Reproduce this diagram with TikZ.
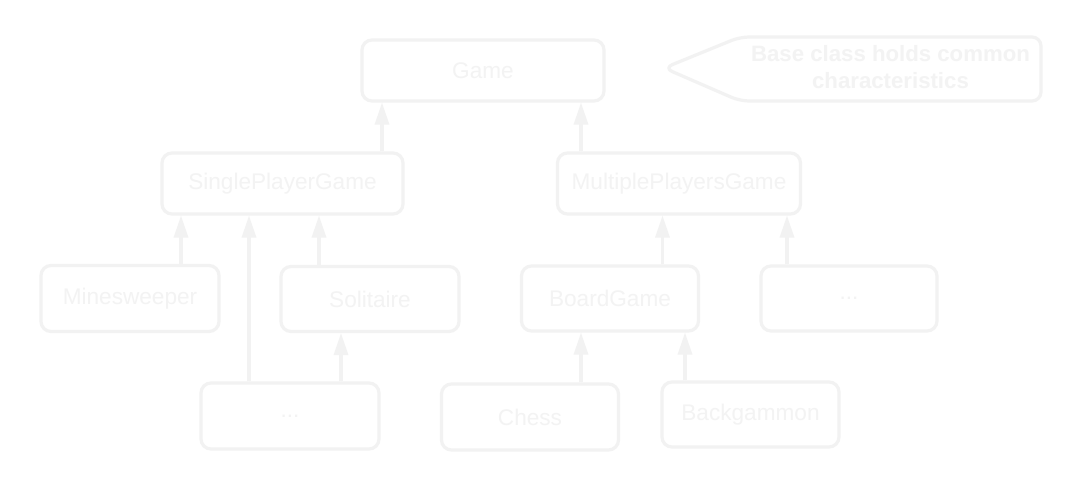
\documentclass[tikz,border=0pt]{standalone}
\usepackage{fontspec}
\setmainfont{Liberation Sans}
\usetikzlibrary{arrows.meta}
\definecolor{pale}{HTML}{F2F2F2}
\definecolor{paletext}{HTML}{F3F3F3}
\tikzset{
  cls/.style={draw=pale, line width=3.2pt, rounded corners=10pt, inner sep=0pt,
    text=paletext, font=\fontsize{22.6}{26}\selectfont},
  inh/.style={draw=pale, line width=3.2pt, -{Triangle[length=22pt,width=14pt]}, fill=pale},
  notebox/.style={draw=pale, line width=3.2pt, rounded corners=9pt, line join=round},
  notetext/.style={text=paletext, font=\fontsize{22.2}{26.5}\selectfont\bfseries, align=center, inner sep=0pt}
}
\begin{document}
\begin{tikzpicture}[x=1pt,y=-1pt]
\useasboundingbox[fill=white] (0,0) rectangle (1076,483);
% class nodes
\node[cls, minimum width=242pt, minimum height=61pt] (game) at (483,70.5) {Game};
\node[cls, minimum width=241pt, minimum height=61pt] (spg) at (282.5,183.5) {SinglePlayerGame};
\node[cls, minimum width=243pt, minimum height=61pt] (mpg) at (679,183.5) {MultiplePlayersGame};
\node[cls, minimum width=178pt, minimum height=66pt] (mines) at (130,298.5) {Minesweeper};
\node[cls, minimum width=178pt, minimum height=65pt] (sol) at (370,299) {Solitaire};
\node[cls, minimum width=177pt, minimum height=65pt] (bg) at (610,298.5) {BoardGame};
\node[cls, minimum width=176pt, minimum height=65pt] (more2) at (849,298.5) {...};
\node[cls, minimum width=178pt, minimum height=66pt] (more1) at (290,416) {...};
\node[cls, minimum width=177pt, minimum height=66pt] (chess) at (530,417) {Chess};
\node[cls, minimum width=177pt, minimum height=65pt] (backg) at (750.5,414.5) {Backgammon};
% note callout
\coordinate (tip) at (664,68);
\draw[notebox] (tip) -- (740,37) -- (1041,37) -- (1041,101) -- (740,101) -- cycle;
\node[notetext] (note) at (890.5,67) {Base class holds common\\characteristics};
% inheritance arrows
\draw[inh] (spg.north -| 382,0) -- (game.south -| 382,0);
\draw[inh] (mpg.north -| 581,0) -- (game.south -| 581,0);
\draw[inh] (mines.north -| 181,0) -- (spg.south -| 181,0);
\draw[inh] (more1.north -| 249,0) -- (spg.south -| 249,0);
\draw[inh] (sol.north -| 319,0) -- (spg.south -| 319,0);
\draw[inh] (more1.north -| 341,0) -- (sol.south -| 341,0);
\draw[inh] (bg.north -| 662.5,0) -- (mpg.south -| 662.5,0);
\draw[inh] (more2.north -| 787,0) -- (mpg.south -| 787,0);
\draw[inh] (chess.north -| 581,0) -- (bg.south -| 581,0);
\draw[inh] (backg.north -| 685,0) -- (bg.south -| 685,0);
\end{tikzpicture}
\end{document}
